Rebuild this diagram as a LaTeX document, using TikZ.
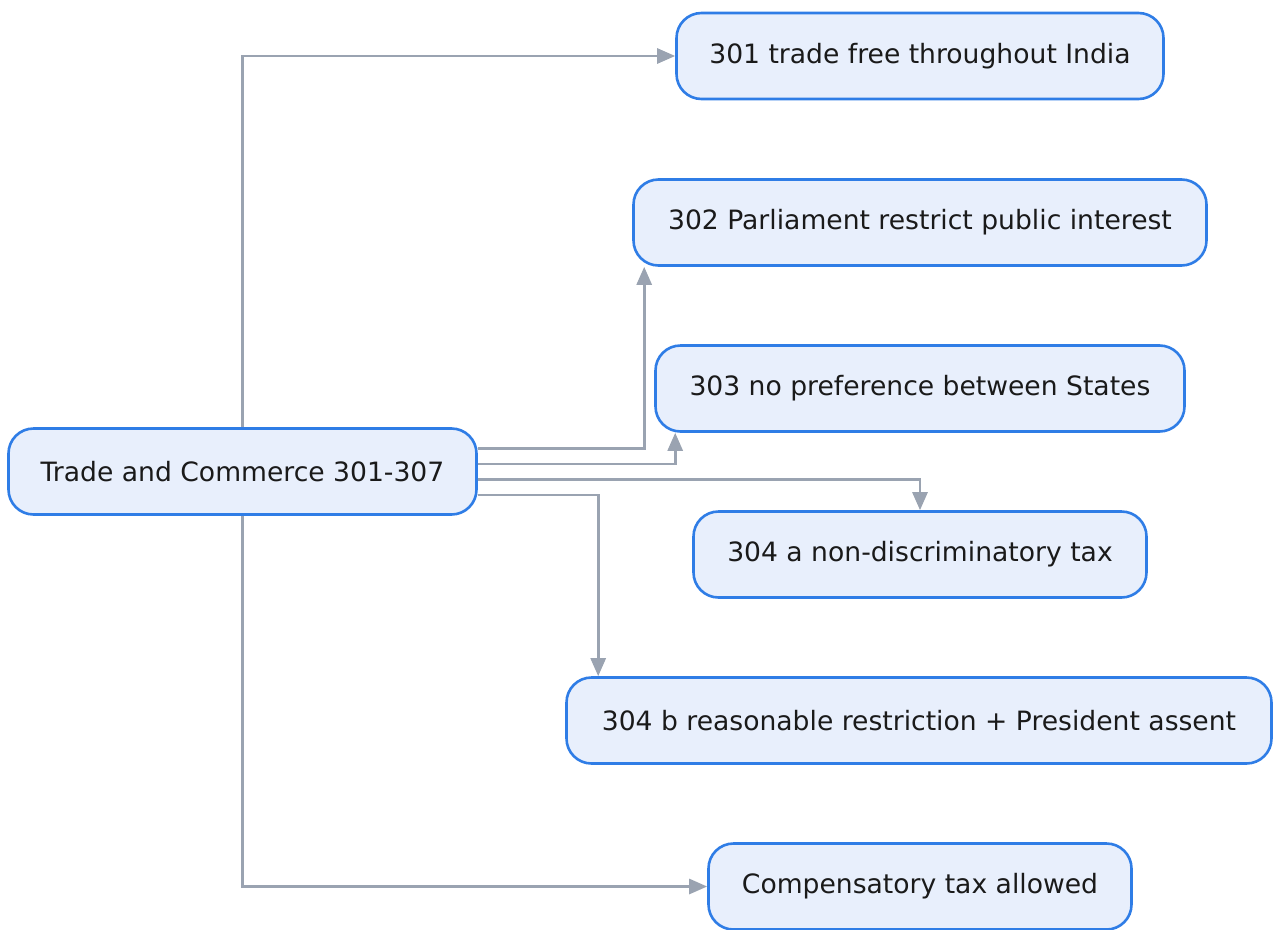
\documentclass[tikz,border=0pt]{standalone}
\usepackage{fontspec}
\setmainfont{DejaVu Sans}
\usetikzlibrary{arrows.meta,calc}
\definecolor{nodefill}{HTML}{E8EFFC}
\definecolor{nodeborder}{HTML}{2F7DE6}
\definecolor{edgecol}{HTML}{9AA3B1}
\definecolor{txt}{HTML}{1A1A1A}
\tikzset{
  box/.style={draw=nodeborder, fill=nodefill, line width=2.6pt, rounded corners=25pt,
    minimum height=86pt, inner sep=0pt, text=txt,
    font=\fontsize{26.6}{31}\selectfont},
  conn/.style={draw=edgecol, line width=2.7pt,
    -{Triangle[length=18pt,width=15pt]}}
}
\begin{document}
\begin{tikzpicture}[x=1pt,y=-1pt]
\useasboundingbox (0,0) rectangle (1274,929);
\node[box, minimum width=468pt] (main) at (242.5,471.5) {Trade and Commerce 301-307};
\node[box, minimum width=487pt] (p301) at (920,56) {301 trade free throughout India};
\node[box, minimum width=573pt] (p302) at (920,222.5) {302 Parliament restrict public interest};
\node[box, minimum width=529pt] (p303) at (920,388.5) {303 no preference between States};
\node[box, minimum width=453pt] (p304a) at (920,554.5) {304 a non-discriminatory tax};
\node[box, minimum width=705pt] (p304b) at (919,720.5) {304 b reasonable restriction + President assent};
\node[box, minimum width=423pt] (comp) at (920,886.5) {Compensatory tax allowed};

\draw[conn] (main.north) |- (p301.west);
\draw[conn] ([yshift=23pt]main.east) -| ([xshift=12pt]p302.south west);
\draw[conn] ([yshift=7.5pt]main.east) -| ([xshift=21pt]p303.south west);
\draw[conn] ([yshift=-8pt]main.east) -| (p304a.north);
\draw[conn] ([yshift=-23.5pt]main.east) -| ([xshift=33pt]p304b.north west);
\draw[conn] (main.south) |- (comp.west);
\end{tikzpicture}
\end{document}
